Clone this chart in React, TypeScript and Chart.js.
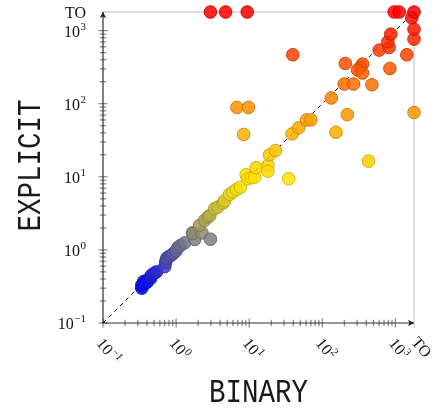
import React, { useEffect, useRef } from "react";
import { Chart, registerables } from "chart.js";

Chart.register(...registerables);

const TO = 1800;
const timeoutLabel = "TO";
const tickExponents = [-1, 0, 1, 2, 3];
const xTitle = "BINARY";
const yTitle = "EXPLICIT";

const binaryTimes = [
  0.34, 0.34, 0.36, 0.37, 0.41, 0.40, 0.45, 0.46, 0.50, 0.54,
  0.70, 0.72, 0.74, 0.78, 0.85, 0.91, 1.00, 1.06, 1.15, 1.31,
  1.80, 1.67, 1.71, 2.26, 2.95, 2.10, 2.46, 2.73, 2.90, 3.37,
  3.74, 4.40, 4.60, 5.40, 6.00, 6.70, 7.60, 9.10, 9.60, 10.7,
  11.9, 12.5, 18.0, 18.0, 19.0, 22.9, 34.8, 38.7, 47.6, 61.0,
  70.0, 154, 220, 430, TO, 6.8, 9.8, 8.4, 39.5, 133,
  200, 268, 478, 207, 356, 331, 304, 356, 841, 601,
  823, 790, 867, 1435, TO, TO, 1680, TO, 963, 1127,
  2.95, 4.76, 9.4,
];
const explicitTimes = [
  0.30, 0.33, 0.37, 0.35, 0.39, 0.36, 0.41, 0.45, 0.48, 0.50,
  0.59, 0.68, 0.76, 0.80, 0.84, 0.89, 0.97, 1.08, 1.15, 1.25,
  1.39, 1.71, 1.67, 1.71, 1.40, 2.17, 2.54, 2.82, 2.95, 3.67,
  3.86, 4.40, 4.70, 5.75, 6.20, 6.70, 7.20, 10.7, 9.40, 9.70,
  9.90, 13.3, 14.3, 11.9, 20.0, 22.9, 9.40, 38.7, 46.8, 60.0,
  60.0, 40.7, 71, 16.4, 76, 89, 89, 38, 468, 120,
  186, 186, 182, 356, 349, 314, 289, 263, 304, 542,
  589, 703, 896, 468, 766, 1048, 1500, TO, TO, TO,
  TO, TO, TO,
];

// colormap over log10(time): blue -> gray -> yellow -> orange -> red
const cmapStops: [number, number, number, number][] = [
  [-0.52, 0, 0, 255],
  [0.15, 128, 128, 128],
  [0.9, 255, 232, 0],
  [2.0, 255, 140, 0],
  [3.26, 255, 0, 0],
];

function colorFor(v: number): [number, number, number] {
  const t = Math.log10(v);
  if (t <= cmapStops[0][0]) return [cmapStops[0][1], cmapStops[0][2], cmapStops[0][3]];
  for (let i = 1; i < cmapStops.length; i++) {
    const a = cmapStops[i - 1];
    const b = cmapStops[i];
    if (t <= b[0]) {
      const f = (t - a[0]) / (b[0] - a[0]);
      return [a[1] + (b[1] - a[1]) * f, a[2] + (b[2] - a[2]) * f, a[3] + (b[3] - a[3]) * f];
    }
  }
  const l = cmapStops[cmapStops.length - 1];
  return [l[1], l[2], l[3]];
}

const SERIF = '"Liberation Serif", "DejaVu Serif", serif';
const MONO = '"Liberation Mono", "DejaVu Sans Mono", monospace';

function powParts(e: number) {
  return { base: "10", sup: e < 0 ? "\u2212" + Math.abs(e) : String(e) };
}

const axesPlugin = {
  id: "pgfAxes",
  beforeDatasetsDraw(chart: any) {
    const ctx = chart.ctx as CanvasRenderingContext2D;
    const xs = chart.scales.x;
    const ys = chart.scales.y;
    const x0 = xs.getPixelForValue(0.1);
    const xT = xs.getPixelForValue(TO);
    const y0 = ys.getPixelForValue(0.1);
    const yT = ys.getPixelForValue(TO);
    ctx.save();
    // timeout guide lines
    ctx.strokeStyle = "#d2d2d2";
    ctx.lineWidth = 1.4;
    ctx.beginPath();
    ctx.moveTo(x0, yT);
    ctx.lineTo(xT, yT);
    ctx.moveTo(xT, yT);
    ctx.lineTo(xT, y0 + 5);
    ctx.stroke();

    // ticks
    ctx.strokeStyle = "#6a6a6a";
    ctx.lineWidth = 1;
    for (let e = -1; e <= 3; e++) {
      for (let k = 1; k <= 9; k++) {
        const v = k * Math.pow(10, e);
        if (v > TO) continue;
        const len = k === 1 ? 4.5 : 3.2;
        const px = xs.getPixelForValue(v);
        const py = ys.getPixelForValue(v);
        ctx.beginPath();
        ctx.moveTo(px, y0 - len);
        ctx.lineTo(px, y0 + len);
        ctx.moveTo(x0 - len, py);
        ctx.lineTo(x0 + len, py);
        ctx.stroke();
      }
    }

    // axis lines with arrows
    ctx.strokeStyle = "#2e2e2e";
    ctx.lineWidth = 1.2;
    ctx.beginPath();
    ctx.moveTo(x0, y0);
    ctx.lineTo(x0, yT);
    ctx.moveTo(x0, y0);
    ctx.lineTo(xT, y0);
    ctx.stroke();
    ctx.fillStyle = "#1e1e1e";
    ctx.beginPath();
    ctx.moveTo(x0, yT);
    ctx.lineTo(x0 - 3.2, yT + 6);
    ctx.lineTo(x0, yT + 4.5);
    ctx.lineTo(x0 + 3.2, yT + 6);
    ctx.closePath();
    ctx.fill();
    ctx.beginPath();
    ctx.moveTo(xT, y0);
    ctx.lineTo(xT - 6, y0 - 3.2);
    ctx.lineTo(xT - 4.5, y0);
    ctx.lineTo(xT - 6, y0 + 3.2);
    ctx.closePath();
    ctx.fill();

    // y tick labels
    ctx.fillStyle = "#111";
    ctx.textBaseline = "alphabetic";
    ctx.textAlign = "left";
    const baseFont = "16px " + SERIF;
    const supFont = "11px " + SERIF;
    const rightX = x0 - 17;
    tickExponents.forEach((e) => {
      const py = ys.getPixelForValue(Math.pow(10, e));
      const { base, sup } = powParts(e);
      ctx.font = baseFont;
      const wb = ctx.measureText(base).width;
      ctx.font = supFont;
      const ws = ctx.measureText(sup).width;
      const sx = rightX - wb - ws - 0.5;
      ctx.font = baseFont;
      ctx.fillText(base, sx, py + 6);
      ctx.font = supFont;
      ctx.fillText(sup, sx + wb + 0.5, py - 1);
    });
    ctx.font = baseFont;
    ctx.textAlign = "right";
    ctx.fillText(timeoutLabel, rightX, yT + 5.5);

    // x tick labels (rotated)
    const ang = (50 * Math.PI) / 180;
    tickExponents.forEach((e) => {
      const px = xs.getPixelForValue(Math.pow(10, e));
      const { base, sup } = powParts(e);
      ctx.save();
      ctx.translate(px - 3, y0 + 17);
      ctx.rotate(ang);
      ctx.textAlign = "left";
      ctx.font = baseFont;
      const wb = ctx.measureText(base).width;
      ctx.fillText(base, 0, 5.5);
      ctx.font = supFont;
      ctx.fillText(sup, wb + 0.5, -0.5);
      ctx.restore();
    });
    ctx.save();
    ctx.translate(xT + 1, y0 + 16);
    ctx.rotate(ang);
    ctx.textAlign = "left";
    ctx.font = baseFont;
    ctx.fillText(timeoutLabel, 0, 5.5);
    ctx.restore();

    // axis titles
    ctx.font = "27.5px " + MONO;
    ctx.textAlign = "center";
    ctx.textBaseline = "alphabetic";
    ctx.fillStyle = "#1a1a1a";
    ctx.save();
    ctx.translate((x0 + xT) / 2, 401.5);
    ctx.scale(1, 1.22);
    ctx.fillText(xTitle, 0, 0);
    ctx.restore();
    ctx.save();
    ctx.translate(40, (y0 + yT) / 2 - 2);
    ctx.rotate(-Math.PI / 2);
    ctx.scale(1, 1.22);
    ctx.fillText(yTitle, 0, 0);
    ctx.restore();

    ctx.restore();
  },
};

export default function App() {
  const ref = useRef<HTMLCanvasElement | null>(null);
  useEffect(() => {
    if (!ref.current) return;
    const points = binaryTimes.map((x, i) => ({ x, y: explicitTimes[i] }));
    const fills = explicitTimes.map((v) => {
      const [r, g, b] = colorFor(v);
      return `rgba(${r.toFixed(0)},${g.toFixed(0)},${b.toFixed(0)},0.85)`;
    });
    const borders = explicitTimes.map((v) => {
      const [r, g, b] = colorFor(v);
      return `rgba(${(r * 0.8).toFixed(0)},${(g * 0.8).toFixed(0)},${(b * 0.8).toFixed(0)},0.9)`;
    });
    const chart = new Chart(ref.current, {
      type: "scatter",
      data: {
        datasets: [
          {
            type: "line",
            data: [
              { x: 0.1, y: 0.1 },
              { x: TO, y: TO },
            ],
            borderColor: "#000",
            borderWidth: 1,
            borderDash: [4, 4],
            pointRadius: 0,
            order: 2,
            clip: false,
          } as any,
          {
            type: "scatter",
            data: points,
            backgroundColor: fills,
            borderColor: borders,
            pointRadius: 6.3,
            pointHoverRadius: 6.3,
            borderWidth: 1,
            order: 1,
            clip: false,
          } as any,
        ],
      },
      options: {
        responsive: false,
        animation: false,
        events: [],
        layout: { padding: { left: 103, top: 12, right: 19, bottom: 86 } },
        plugins: { legend: { display: false }, tooltip: { enabled: false } },
        scales: {
          x: { type: "logarithmic", min: 0.1, max: TO, display: false },
          y: { type: "logarithmic", min: 0.1, max: TO, display: false },
        },
      } as any,
      plugins: [axesPlugin],
    });
    return () => chart.destroy();
  }, []);
  return (
    <div style={{ position: "fixed", left: 0, top: 0, width: 433, height: 409, background: "#fff" }}>
      <canvas ref={ref} width={433} height={409} style={{ display: "block" }} />
    </div>
  );
}
